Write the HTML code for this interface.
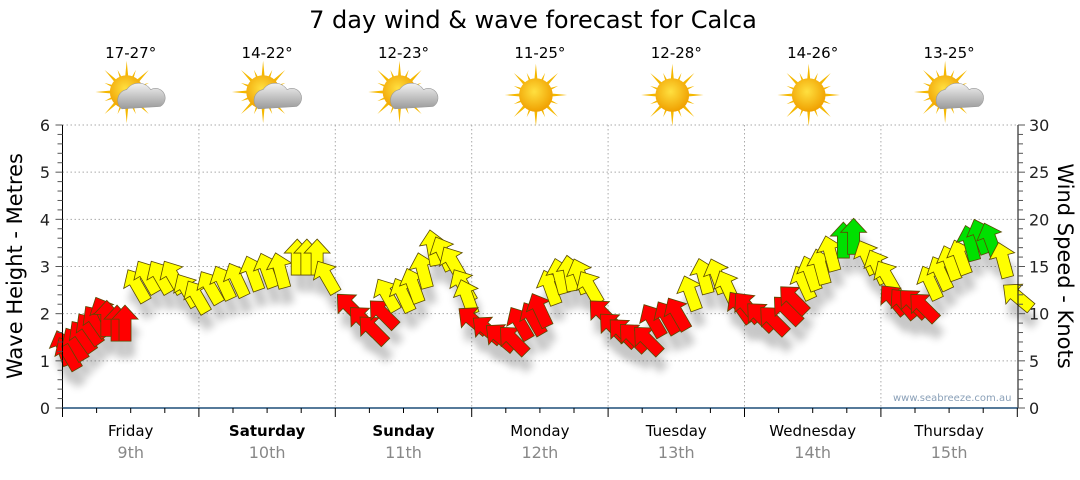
<!DOCTYPE html>
<html><head><meta charset="utf-8"><style>
body{margin:0;background:#fff;font-family:"Liberation Sans",sans-serif}
svg text{font-family:"DejaVu Sans","Liberation Sans",sans-serif}
</style></head><body>
<svg id="c" width="1080" height="475" viewBox="0 0 1080 475">
<defs>
<filter id="sh" x="-50%" y="-50%" width="200%" height="200%"><feGaussianBlur stdDeviation="4"/></filter>
<radialGradient id="sun" cx="0.45" cy="0.4" r="0.6"><stop offset="0" stop-color="#ffe040"/><stop offset="1" stop-color="#f0a000"/></radialGradient>
<linearGradient id="cloud" x1="0" y1="0" x2="0" y2="1"><stop offset="0" stop-color="#f2f2f2"/><stop offset="1" stop-color="#9a9a9a"/></linearGradient>
</defs>
<text x="533" y="28" font-size="24" text-anchor="middle" fill="#000">7 day wind &amp; wave forecast for Calca</text>
<g id="grid"></g><g id="shadows" opacity="0.22"></g><g id="arrows"></g><g id="axes"></g><g id="topg"></g>
<text x="893" y="401" font-size="10" fill="#8aa0b8">www.seabreeze.com.au</text>
<text transform="translate(22,266) rotate(-90)" font-size="21" text-anchor="middle" fill="#000">Wave Height - Metres</text>
<text transform="translate(1058,266) rotate(90)" font-size="21" text-anchor="middle" fill="#000">Wind Speed - Knots</text>
</svg>
<script>
const days=["Friday","Saturday","Sunday","Monday","Tuesday","Wednesday","Thursday"];
const dates=["9th","10th","11th","12th","13th","14th","15th"];
const temps=["17-27°","14-22°","12-23°","11-25°","12-28°","14-26°","13-25°"];
const cloudy=[1,1,1,0,0,0,1];
const waveTicks=[0,1,2,3,4,5,6];
const windTicks=[0,5,10,15,20,25,30];
// wind: hour offset from Friday 00:00, speed in knots, arrow heading (deg clockwise from up)
const windHours=[0.1,1.0,2.2,3.5,4.7,5.9,7.2,7.8,9.6,11.0,
13.1,14.9,17.2,19.5,21.9,23.7,26.0,28.3,30.7,33.5,36.0,38.3,41.3,43.0,44.8,46.5,
50.6,52.9,54.6,56.4,57.1,59.9,61.7,63.4,65.2,67.0,68.7,70.5,71.2,
72.2,74.7,77.0,79.3,80.5,82.8,84.0,85.8,87.5,89.3,91.1,92.8,95.1,96.9,98.6,100.4,102.9,
103.9,106.4,108.2,110.5,112.8,115.2,117.0,119.3,
120.5,122.8,125.1,127.5,128.6,130.4,131.6,133.4,135.1,137.4,139.2,141.6,143.4,145.1,146.2,148.0,149.7,151.5,
152.7,154.5,156.2,158.0,159.7,161.5,163.3,165.5,168.0];
const windSpeed=[6.4,5.8,6.8,7.6,8.4,9.2,10,9.5,9,9,
13,13.9,13.9,13.9,12.5,11.8,12.8,13.3,13.6,14.3,14.6,14.6,16,16,16,13.9,
10.7,9.3,8.3,10,12,12,13,14.6,17,16.4,15.4,13,11.8,
9.3,8.3,7.5,7.2,9,9.5,10.4,12.8,14,14.3,14,12.8,10,8.6,8,7.5,7.2,
9.3,9.6,10,12.2,14,14,12.8,10.7,
10.7,9.7,9.3,10.4,11.5,13.3,14.3,15,16.4,17.8,18.2,16,15,13.9,11.5,11.1,11.1,10.7,
13.3,14.3,15.4,16,17.5,18.2,17.8,15.7,11.8];
const windDir=[-20,-30,-30,-35,-35,-35,-25,0,0,0,
-30,-30,-30,-30,-30,-30,-30,-25,-25,-20,-20,-15,0,0,0,-30,
-45,-45,-45,-45,-30,-25,-20,-15,-10,-25,-30,-30,-20,
-50,-50,-50,-45,-30,-30,-25,-20,-15,-10,-20,-30,-45,-45,-45,-45,-45,
-30,-30,-30,-20,-15,-20,-25,-35,
-40,-45,-45,-45,-45,-25,-20,-15,-15,0,0,-25,-25,-30,-40,-40,-45,-45,
-25,-25,-20,-20,-15,-20,-20,-15,-50];

const X0=62.5,DW=136.4,Y0=408,YT=125;
const xH=h=>X0+h*DW/24;
const yM=m=>Y0-(Y0-YT)*m/6;
const yK=k=>Y0-(Y0-YT)*k/30;
const NS="http://www.w3.org/2000/svg";
function mk(tag,attrs,parent){const e=document.createElementNS(NS,tag);for(const k in attrs)e.setAttribute(k,attrs[k]);parent.appendChild(e);return e;}
const gridG=document.getElementById('grid'),axesG=document.getElementById('axes'),topG=document.getElementById('topg');
for(const m of waveTicks.slice(1)){
 const l=mk('line',{x1:X0,x2:1018,y1:yM(m),y2:yM(m),stroke:'#aaa','stroke-dasharray':'1.5,2.5'},gridG);
 
 
}
for(let d=1;d<7;d++){
 const l=mk('line',{x1:X0+d*DW,x2:X0+d*DW,y1:YT,y2:Y0,stroke:'#aaa','stroke-dasharray':'1.5,2.5'},gridG);
 
 
}
mk('line',{x1:X0,x2:X0,y1:YT,y2:Y0,stroke:'#000'},axesG);
mk('line',{x1:1018,x2:1018,y1:YT,y2:Y0,stroke:'#000'},axesG);
const xa=mk('line',{x1:X0,x2:1018,y1:Y0,y2:Y0,stroke:'#1f4e79','stroke-width':1.5},axesG);


for(let i=0;i<=30;i++){
 const y=yK(i),len=i%5==0?7:5;
 mk('line',{x1:X0-len,x2:X0,y1:y,y2:y,stroke:'#555'},axesG);
 mk('line',{x1:1018,x2:1018+len,y1:y,y2:y,stroke:'#555'},axesG);
}
for(const m of waveTicks){const t=mk('text',{x:50,y:yM(m)+6,'font-size':16,'text-anchor':'end',fill:'#222'},axesG);t.textContent=m;
 
 }
for(const k of windTicks){const t=mk('text',{x:1029,y:yK(k)+6,'font-size':16,fill:'#222'},axesG);t.textContent=k;
 
 }
for(let h=0;h<=168;h+=6){const x=xH(h);mk('line',{x1:x,x2:x,y1:Y0,y2:Y0+(h%24==0?9:5),stroke:'#000'},axesG);}
days.forEach((d,i)=>{
 const cx=X0+DW*(i+0.5);
 const t=mk('text',{x:cx,y:436,'font-size':15,'text-anchor':'middle',fill:'#000','font-weight':(i==1||i==2)?'bold':'normal'},axesG);t.textContent=d;
 
 
 const t2=mk('text',{x:cx,y:458,'font-size':16,'text-anchor':'middle',fill:'#888'},axesG);t2.textContent=dates[i];
 
 
 const t3=mk('text',{x:cx,y:58,'font-size':15,'text-anchor':'middle',fill:'#000'},topG);t3.textContent=temps[i];
 
 
 const g=mk('g',{transform:`translate(${cx-4},${cloudy[i]?92:95}) scale(1.2)`},topG);
 
 
 for(let a=0;a<16;a++){const r=a%2?20:26;mk('polygon',{points:`-2.5,0 2.5,0 0,-${r}`,fill:'#f5b800',transform:`rotate(${a*22.5})`},g);}
 mk('circle',{cx:0,cy:0,r:14,fill:'url(#sun)'},g);
 if(cloudy[i]){
  mk('path',{d:'M-4,14 a9,9 0 0 1 4,-16 a12,12 0 0 1 20,0 a8,8 0 0 1 8,14 z',fill:'url(#cloud)',stroke:'#999','stroke-width':0.5},g);
 }
});
const shG=document.getElementById('shadows'),arG=document.getElementById('arrows');
const shape='0,-18 13,-4 6,-4 6,18 -6,18 -6,-4 -13,-4';
windHours.forEach((h,i)=>{
 const s=windSpeed[i],x=xH(h),y=yK(s);
 const col=s>=17.2?'#00e000':s>=11.7?'#ffff00':'#ff0000';
 const p0=mk('polygon',{points:shape,fill:'#000',filter:'url(#sh)',transform:`translate(${x+4},${y+16}) rotate(${windDir[i]})`},shG);
 
 
 const p=mk('polygon',{points:shape,fill:col,stroke:'#5a4a00','stroke-width':0.8,transform:`translate(${x},${y}) rotate(${windDir[i]})`},arG);
 
 
});
</script>
</body></html>
